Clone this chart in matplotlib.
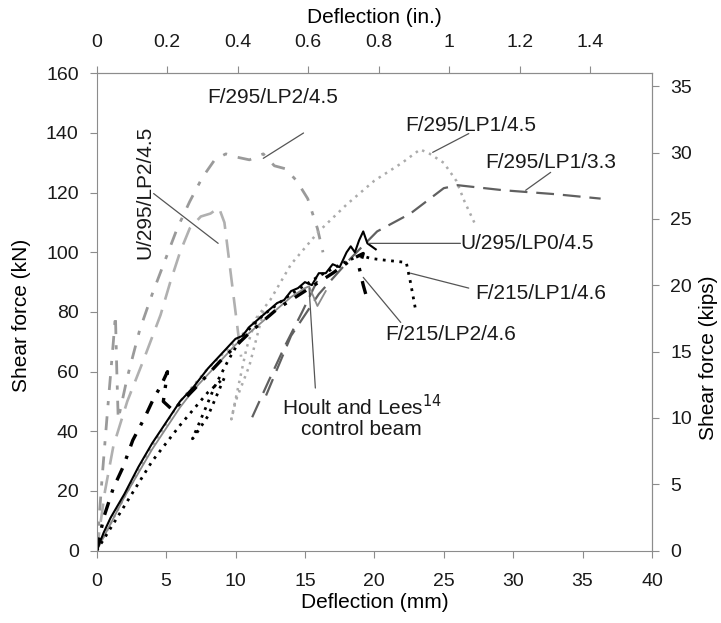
import matplotlib.pyplot as plt
from matplotlib.ticker import MultipleLocator, FuncFormatter

plt.rcParams['font.family'] = ['Liberation Sans', 'DejaVu Sans']

KN_PER_KIP = 4.44822
MM_PER_IN = 25.4

# U/295/LP0/4.5 (black solid)
lp0_x = [0, 0.5, 1, 2, 3, 4, 5, 6, 7, 8, 9, 10, 10.5, 11, 11.5, 12, 12.5, 13, 13.5, 14,
         14.5, 15, 15.5, 16, 16.5, 17, 17.5, 18, 18.3, 18.6, 18.9, 19.2, 19.5, 19.8, 20.1]
lp0_y = [0, 6, 11, 19, 28, 36, 43, 50, 55, 61, 66, 71, 72, 75, 77, 79, 81, 83, 84, 87,
         88, 90, 89, 93, 93, 96, 95, 100, 102, 100, 104, 107, 103, 102, 101]

# Hoult and Lees control beam (grey solid)
hl_x = [0, 1, 2, 3, 4, 5, 6, 7, 8, 9, 10, 11, 12, 13, 14, 15, 15.3, 15.9, 16.5]
hl_y = [0, 9, 18, 26, 34, 41, 48, 54, 59, 64, 69, 73, 77, 81, 85, 88, 88.6, 82, 87]

# F/295/LP1/4.5 (light grey dotted)
f1_45_x = [0, 1, 2, 4, 6, 8, 10, 11, 12, 11, 10, 9.7, 10.2, 10.8, 11.5, 12.5, 14, 16, 18,
           20, 22, 23.3, 24, 25, 25.9, 26.5, 27.2]
f1_45_y = [0, 9, 18, 35, 50, 61, 70, 75, 80, 62, 50, 44, 55, 68, 78, 84, 96, 107, 116,
           124, 130, 134.5, 133, 130, 124, 117, 110]

# F/295/LP1/3.3 (dark grey dashed)
f1_33a_x = [11.2, 12.4, 13.6, 14.8, 15.9]
f1_33a_y = [44.7, 57, 69, 80, 90.6]
f1_33b_x = [12.2, 14, 16, 18.3, 20.2, 22.6, 25, 26, 29.3, 33, 36.3]
f1_33b_y = [52, 72, 86, 98, 107, 113, 121.5, 122.5, 120.8, 119.5, 118]

# F/295/LP2/4.5 (grey dash-dot)
f2_45_x = [0, 0.4, 0.8, 1.2, 1.35, 1.45, 1.55, 2.2, 3.1, 4.0, 4.9, 5.8, 6.7, 7.6, 8.5,
           9.3, 10, 11, 12, 12.8, 13.6, 14.4, 15.2, 15.9, 16.3]
f2_45_y = [0, 25, 48, 70, 79, 60, 44, 58, 74, 86, 97, 108, 117, 125, 131,
           133, 132, 131, 133, 129, 128, 124, 118, 108, 100]

# U/295/LP2/4.5 (light grey dashed)
u2_45_x = [0, 0.6, 1.2, 2.2, 3.3, 4.6, 5.3, 6, 6.7, 7.5, 8.2, 8.8, 9.2, 9.6, 10, 10.4]
u2_45_y = [0, 20, 35, 50, 63, 79, 90, 100, 108, 112, 113, 115, 110, 95, 80, 65]

# F/215/LP1/4.6 (black dotted)
f1_46_x = [0, 2, 4, 6, 8, 9.2, 8, 7, 6.9, 7.5, 8.5, 9.5, 10.5, 12, 14, 16, 18, 19,
           19.7, 20.5, 21.5, 22.3, 22.6, 23]
f1_46_y = [0, 15, 30, 42, 53, 58, 45, 38, 37.5, 44, 55, 64, 72, 79, 86, 92, 97, 99,
           98, 97.5, 97, 96.6, 90, 80]

# F/215/LP2/4.6 (black dash-dot)
f2_46_x = [0, 0.5, 1.2, 1.9, 2.6, 3.5, 4.1, 4.6, 5.1, 4.8, 5.5, 7, 9, 11, 13, 15, 17,
           18.5, 19.2, 18.9, 19.2, 19.5]
f2_46_y = [0, 11, 21, 28, 37, 45, 51, 55, 60, 50, 47, 54, 64, 73, 81, 87, 93,
           98, 99.6, 95, 89, 84]

# labels: text, text position, leader start, leader end
labels = [
    ('F/295/LP2/4.5', (8.0, 152), (14.9, 140), (12.0, 131.5)),
    ('F/295/LP1/4.5', (22.2, 142.6), (26.8, 139.8), (24.2, 133.5)),
    ('F/295/LP1/3.3', (28.0, 130), (32.7, 126.8), (30.9, 120.8)),
    ('U/295/LP0/4.5', (26.2, 103), (26.2, 103), (19.6, 103)),
    ('F/215/LP1/4.6', (27.3, 86.2), (26.8, 88), (22.6, 93)),
    ('F/215/LP2/4.6', (20.8, 72.5), (21.9, 76.5), (19.2, 91.6)),
]

fig = plt.figure(figsize=(7.21, 6.23), dpi=100)
ax = fig.add_axes([0.1341, 0.1162, 0.7702, 0.7661])

ax.plot(u2_45_x, u2_45_y, color='#b0b0b0', lw=1.9, dashes=(7, 4))
ax.plot(f2_45_x, f2_45_y, color='#9a9a9a', lw=2.0, dashes=(5, 4, 1.5, 4))
ax.plot(f1_45_x, f1_45_y, color='#ababab', lw=1.8, dashes=(1, 2))
ax.plot(f1_33a_x, f1_33a_y, color='#606060', lw=1.6, dashes=(8, 4))
ax.plot(f1_33b_x, f1_33b_y, color='#606060', lw=1.6, dashes=(8, 4))
ax.plot(hl_x, hl_y, color='#8a8a8a', lw=1.3)
ax.plot(f1_46_x, f1_46_y, color='black', lw=2.0, dashes=(1, 2))
ax.plot(f2_46_x, f2_46_y, color='black', lw=2.4, dashes=(4, 3, 1, 3))
ax.plot(lp0_x, lp0_y, color='black', lw=1.5)

for text, pos, start, end in labels:
    ax.annotate('', xy=end, xytext=start,
                arrowprops=dict(arrowstyle='-', color='#555555', lw=0.9,
                                shrinkA=0, shrinkB=0))
    ax.text(pos[0], pos[1], text, fontsize=15, ha='left', va='center', color='#1a1a1a')

# rotated label and the control beam label
ax.annotate('', xy=(8.75, 103), xytext=(4.1, 119.7),
            arrowprops=dict(arrowstyle='-', color='#555555', lw=0.9, shrinkA=0, shrinkB=0))
ax.text(3.5, 120, 'U/295/LP2/4.5', fontsize=15, rotation=90, ha='center', va='center',
        color='#1a1a1a')
ax.annotate('', xy=(15.3, 88), xytext=(15.75, 54.5),
            arrowprops=dict(arrowstyle='-', color='#555555', lw=0.9, shrinkA=0, shrinkB=0))
ax.text(19.1, 45, 'Hoult and Lees$^{14}$\ncontrol beam', fontsize=15, ha='center',
        va='center', color='#1a1a1a', linespacing=1.1)

ax.set_xlim(0, 40)
ax.set_ylim(0, 160)
ax.xaxis.set_major_locator(MultipleLocator(5))
ax.yaxis.set_major_locator(MultipleLocator(20))
ax.xaxis.get_offset_text().set_visible(False)
ax.yaxis.get_offset_text().set_visible(False)

for s in ax.spines.values():
    s.set_color('#8c8c8c')
ax.tick_params(direction='out', length=5, color='#8c8c8c', labelsize=14,
               labelcolor='#1a1a1a')
ax.tick_params(axis='x', pad=11)
ax.tick_params(axis='y', pad=8)

top = ax.secondary_xaxis('top', functions=(lambda v: v / MM_PER_IN, lambda v: v * MM_PER_IN))
top.xaxis.set_major_locator(MultipleLocator(0.2))
top.xaxis.set_major_formatter(FuncFormatter(lambda v, p: f'{v:g}'))
top.tick_params(direction='out', length=5, color='#8c8c8c', labelsize=14,
                labelcolor='#1a1a1a', pad=11)
top.spines['top'].set_color('#8c8c8c')
top.set_xlabel('Deflection (in.)', fontsize=15, labelpad=8)

right = ax.secondary_yaxis('right', functions=(lambda v: v / KN_PER_KIP, lambda v: v * KN_PER_KIP))
right.yaxis.set_major_locator(MultipleLocator(5))
right.tick_params(direction='out', length=5, color='#8c8c8c', labelsize=14,
                  labelcolor='#1a1a1a', pad=8)
right.spines['right'].set_color('#8c8c8c')

ax.set_xlabel('Deflection (mm)', fontsize=15, labelpad=2)
fig.text(22 / 721, 1 - 315 / 623, 'Shear force (kN)', rotation=90, fontsize=15,
         ha='center', va='center')
fig.text(708 / 721, 1 - 358 / 623, 'Shear force (kips)', rotation=90, fontsize=15,
         ha='center', va='center')

fig.savefig('out.png', dpi=100)
